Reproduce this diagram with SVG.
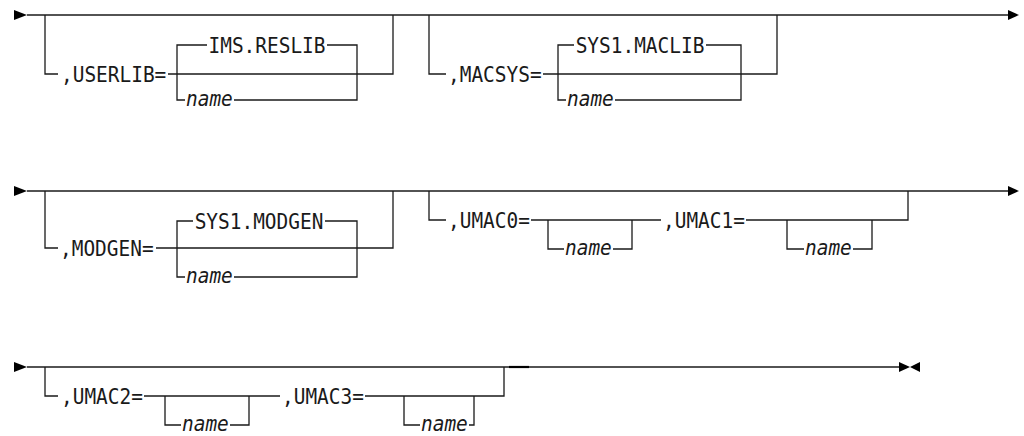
<svg xmlns="http://www.w3.org/2000/svg" width="1024" height="436" viewBox="0 0 1024 436">
<style>
.ln{fill:none;stroke:#1a1a1a;stroke-width:1.3}
.kw{font-family:"DejaVu Sans Mono","Liberation Mono",monospace;font-size:21px;fill:#1a1a1a}
.var{font-family:"DejaVu Sans Mono","Liberation Mono",monospace;font-size:21px;font-style:italic;fill:#1a1a1a}
.ah{fill:#000}
</style>
<rect width="1024" height="436" fill="#fff"/>
<g id="connectors">
<!-- Row 1 -->
<path class="ln" d="M27 15H1008"/>
<path class="ln" d="M45 15V74H58"/>
<path class="ln" d="M168 74H393V15"/>
<path class="ln" d="M207 45H177V100H185"/>
<path class="ln" d="M327 45H357V100H234"/>
<path class="ln" d="M429 15V74H446"/>
<path class="ln" d="M543 74H777V15"/>
<path class="ln" d="M574 45H558V100H566"/>
<path class="ln" d="M706 45H741V100H615"/>
<!-- Row 2 -->
<path class="ln" d="M27 191H1008"/>
<path class="ln" d="M45 191V248H58"/>
<path class="ln" d="M156 248H393V191"/>
<path class="ln" d="M193 221H177V277H185"/>
<path class="ln" d="M325 221H357V277H234"/>
<path class="ln" d="M429 191V220H446"/>
<path class="ln" d="M531 220H661"/>
<path class="ln" d="M548 220V249H564"/>
<path class="ln" d="M613 249H632V220"/>
<path class="ln" d="M746 220H908V191"/>
<path class="ln" d="M787 220V249H804"/>
<path class="ln" d="M853 249H872V220"/>
<!-- Row 3 -->
<path class="ln" d="M27 367H900"/>
<path class="ln" d="M45 367V396H58"/>
<path class="ln" d="M144 396H280"/>
<path class="ln" d="M165 396V425H181"/>
<path class="ln" d="M230 425H249V396"/>
<path class="ln" d="M365 396H504V367"/>
<path class="ln" d="M404 396V425H420"/>
<path class="ln" d="M469 425H474V396"/>
<path d="M509 367H529" fill="none" stroke="#000" stroke-width="2.2"/>
<!-- arrowheads -->
<path class="ah" d="M14 10L27 15L14 20Z"/>
<path class="ah" d="M1008 10L1019 15L1008 20Z"/>
<path class="ah" d="M14 186L27 191L14 196Z"/>
<path class="ah" d="M1008 186L1019 191L1008 196Z"/>
<path class="ah" d="M14 362L27 367L14 372Z"/>
<path class="ah" d="M899 362L910 367L899 372Z"/>
<path class="ah" d="M920 362L910 367L920 372Z"/>
</g>
<g id="n-userlib"><text class="kw" x="61" y="81.5" textLength="105.3" lengthAdjust="spacingAndGlyphs">,USERLIB=</text></g>
<g id="n-imsreslib"><text class="kw" x="267" y="52.5" text-anchor="middle" textLength="117" lengthAdjust="spacingAndGlyphs">IMS.RESLIB</text></g>
<g id="n-userlib-name"><text class="var" x="186" y="105.5" textLength="46.8" lengthAdjust="spacingAndGlyphs">name</text></g>
<g id="n-macsys"><text class="kw" x="448" y="81.5" textLength="93.6" lengthAdjust="spacingAndGlyphs">,MACSYS=</text></g>
<g id="n-sys1maclib"><text class="kw" x="640" y="52.5" text-anchor="middle" textLength="128.7" lengthAdjust="spacingAndGlyphs">SYS1.MACLIB</text></g>
<g id="n-macsys-name"><text class="var" x="567" y="105.5" textLength="46.8" lengthAdjust="spacingAndGlyphs">name</text></g>
<g id="n-modgen"><text class="kw" x="60" y="255.5" textLength="93.6" lengthAdjust="spacingAndGlyphs">,MODGEN=</text></g>
<g id="n-sys1modgen"><text class="kw" x="259" y="228.5" text-anchor="middle" textLength="128.7" lengthAdjust="spacingAndGlyphs">SYS1.MODGEN</text></g>
<g id="n-modgen-name"><text class="var" x="186" y="282.5" textLength="46.8" lengthAdjust="spacingAndGlyphs">name</text></g>
<g id="n-umac0"><text class="kw" x="448" y="227.5" textLength="81.9" lengthAdjust="spacingAndGlyphs">,UMAC0=</text></g>
<g id="n-umac0-name"><text class="var" x="565" y="254.5" textLength="46.8" lengthAdjust="spacingAndGlyphs">name</text></g>
<g id="n-umac1"><text class="kw" x="663" y="227.5" textLength="81.9" lengthAdjust="spacingAndGlyphs">,UMAC1=</text></g>
<g id="n-umac1-name"><text class="var" x="805" y="254.5" textLength="46.8" lengthAdjust="spacingAndGlyphs">name</text></g>
<g id="n-umac2"><text class="kw" x="61" y="403.5" textLength="81.9" lengthAdjust="spacingAndGlyphs">,UMAC2=</text></g>
<g id="n-umac2-name"><text class="var" x="182" y="430.5" textLength="46.8" lengthAdjust="spacingAndGlyphs">name</text></g>
<g id="n-umac3"><text class="kw" x="282" y="403.5" textLength="81.9" lengthAdjust="spacingAndGlyphs">,UMAC3=</text></g>
<g id="n-umac3-name"><text class="var" x="421" y="430.5" textLength="46.8" lengthAdjust="spacingAndGlyphs">name</text></g>
</svg>
